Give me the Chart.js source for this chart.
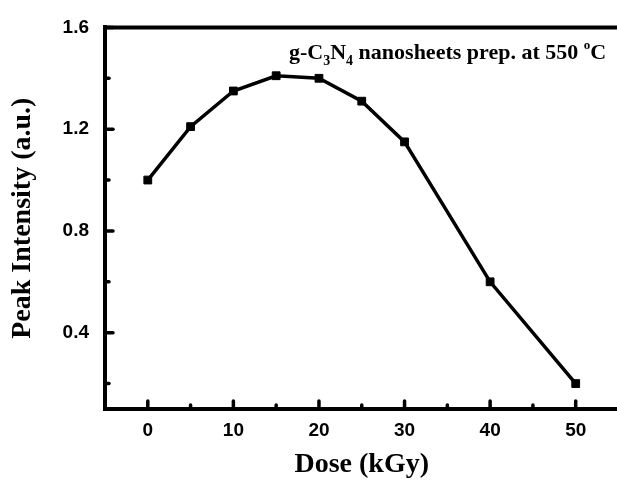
<!DOCTYPE html>
<html>
<head>
<meta charset="utf-8">
<script src="https://cdn.jsdelivr.net/npm/chart.js@4/dist/chart.umd.min.js"></script>
<style>
  html, body { margin: 0; padding: 0; background: #fff; overflow: hidden; width: 617px; height: 480px; }
  canvas { display: block; }
</style>
</head>
<body>
<canvas id="c" width="625" height="480"></canvas>
<script>
// ---- data ----
const doses = [0, 5, 10, 15, 20, 25, 30, 40, 50];
const peakIntensity = [1.00, 1.21, 1.35, 1.41, 1.40, 1.31, 1.15, 0.60, 0.20];
const xMajorTicks = [0, 10, 20, 30, 40, 50];
const xMinorTicks = [5, 15, 25, 35, 45];
const yMajorTicks = [0.4, 0.8, 1.2, 1.6];
const yMinorTicks = [0.2, 0.6, 1.0, 1.4];
const xTitle = 'Dose (kGy)';
const yTitle = 'Peak Intensity (a.u.)';
const noteParts = [
  { t: 'g-C' }, { t: '3', sub: true }, { t: 'N' }, { t: '4', sub: true },
  { t: ' nanosheets prep. at 550 ' }, { t: 'o', sup: true }, { t: 'C' }
];

const points = doses.map((d, i) => ({ x: d, y: peakIntensity[i] }));
const serif = '"Liberation Serif", "Times New Roman", serif';
const sans = '"Liberation Sans", Arial, sans-serif';

const tickMarks = {
  id: 'tickMarks',
  afterDraw(chart) {
    const ctx = chart.ctx, a = chart.chartArea;
    const xs = chart.scales.x, ys = chart.scales.y;
    ctx.save();
    ctx.strokeStyle = '#000';
    // top frame line
    ctx.lineWidth = 4;
    ctx.lineCap = 'butt';
    ctx.beginPath();
    ctx.moveTo(a.left - 2, a.top);
    ctx.lineTo(a.right, a.top);
    ctx.stroke();
    // inward ticks
    ctx.lineCap = 'round';
    ctx.lineWidth = 3.5;
    const xb = a.bottom;
    xMajorTicks.forEach(v => { const p = xs.getPixelForValue(v); ctx.beginPath(); ctx.moveTo(p, xb); ctx.lineTo(p, xb - 8); ctx.stroke(); });
    xMinorTicks.forEach(v => { const p = xs.getPixelForValue(v); ctx.beginPath(); ctx.moveTo(p, xb); ctx.lineTo(p, xb - 4); ctx.stroke(); });
    const yl = a.left;
    yMajorTicks.forEach(v => { const p = ys.getPixelForValue(v); ctx.beginPath(); ctx.moveTo(yl, p); ctx.lineTo(yl + 8, p); ctx.stroke(); });
    yMinorTicks.forEach(v => { const p = ys.getPixelForValue(v); ctx.beginPath(); ctx.moveTo(yl, p); ctx.lineTo(yl + 4, p); ctx.stroke(); });
    // annotation text
    ctx.fillStyle = '#000';
    ctx.textBaseline = 'alphabetic';
    ctx.textAlign = 'left';
    let x = a.left + 184;
    const base = a.top + 32;
    noteParts.forEach(part => {
      let size = 22, dy = 0;
      if (part.sub) { size = 14; dy = 6; }
      if (part.sup) { size = 13; dy = -10; }
      ctx.font = 'bold ' + size + 'px ' + serif;
      ctx.fillText(part.t, x, base + dy);
      x += ctx.measureText(part.t).width;
    });
    ctx.restore();
  }
};

new Chart(document.getElementById('c'), {
  type: 'line',
  data: {
    datasets: [{
      data: points,
      borderColor: '#000',
      backgroundColor: '#000',
      borderWidth: 3.5,
      tension: 0,
      pointStyle: 'rect',
      pointRadius: 5.5,
      pointBorderWidth: 1,
      pointBackgroundColor: '#000',
      pointBorderColor: '#000'
    }]
  },
  options: {
    responsive: false,
    devicePixelRatio: 1,
    animation: false,
    layout: { padding: { top: 25, right: 0, bottom: 0, left: 0 } },
    plugins: { legend: { display: false }, tooltip: { enabled: false } },
    scales: {
      x: {
        type: 'linear',
        min: -5,
        max: 55,
        afterFit(s) { s.height = 71; },
        afterBuildTicks(s) { s.ticks = [...xMajorTicks, ...xMinorTicks].sort((p, q) => p - q).map(v => ({ value: v })); },
        grid: { display: false, drawTicks: false },
        border: { display: true, width: 4, color: '#000' },
        ticks: {
          padding: 10,
          color: '#000',
          font: { family: sans, size: 19, weight: 'bold' },
          maxRotation: 0,
          autoSkip: false,
          callback: v => xMajorTicks.includes(v) ? String(v) : ''
        },
        title: {
          display: true,
          text: xTitle,
          color: '#000',
          font: { family: serif, size: 28, weight: 'bold', lineHeight: 1 },
          padding: { top: 0, bottom: 1 }
        }
      },
      y: {
        type: 'linear',
        min: 0.1,
        max: 1.6,
        afterFit(s) { s.width = 105; },
        afterBuildTicks(s) { s.ticks = [...yMinorTicks, ...yMajorTicks].sort((p, q) => p - q).map(v => ({ value: v })); },
        grid: { display: false, drawTicks: false },
        border: { display: true, width: 4, color: '#000' },
        ticks: {
          padding: 16,
          color: '#000',
          font: { family: sans, size: 19, weight: 'bold' },
          autoSkip: false,
          callback: v => yMajorTicks.some(m => Math.abs(m - v) < 1e-9) ? v.toFixed(1) : ''
        },
        title: {
          display: true,
          text: yTitle,
          color: '#000',
          font: { family: serif, size: 28, weight: 'bold', lineHeight: 1 },
          padding: { top: 9, bottom: 0 }
        }
      }
    }
  },
  plugins: [tickMarks]
});
</script>
</body>
</html>
